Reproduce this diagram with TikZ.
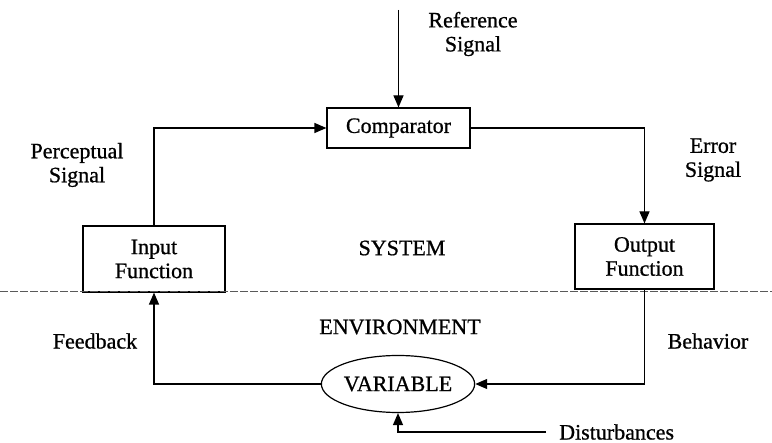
\documentclass[tikz,border=0pt]{standalone}
\usepackage{fontspec}
\setmainfont{Liberation Serif}[FakeBold=0.8]
\usetikzlibrary{arrows.meta,positioning,shapes.geometric}

\begin{document}
\begin{tikzpicture}[x=1pt, y=-1pt, font=\fontsize{22}{24}\selectfont, box/.style={draw, line width=1.2pt, align=center, inner sep=0pt}, lbl/.style={align=center, inner sep=1pt}, arr/.style={-{Triangle[length=12pt,width=10pt]}, line width=1.2pt}, sep/.style={line width=0.9pt, gray!70!black, dash pattern=on 8pt off 2pt}]
\useasboundingbox (0,0) rectangle (772,443);
\node[box, minimum width=143pt, minimum height=40pt] (comp) at (398.5,128) {Comparator};
\node[box, minimum width=142pt, minimum height=66pt] (inp) at (154,259) {Input\\Function};
\node[box, minimum width=139pt, minimum height=65pt] (outp) at (644.5,256.5) {Output\\Function};
\node[draw, ellipse, line width=1.2pt, minimum width=136pt, minimum height=57pt, inner sep=0pt] (var) at (398,384) {VARIABLE};
\node[lbl] (reflbl) at (473,34) {Reference\\Signal};
\node[lbl] (perclbl) at (77,165) {Perceptual\\Signal};
\node[lbl] (errlbl) at (713,160) {Error\\Signal};
\node[lbl] (syslbl) at (402,248) {SYSTEM};
\node[lbl] (envlbl) at (400,327) {ENVIRONMENT};
\node[lbl] (fblbl) at (95,341) {Feedback};
\node[lbl] (behlbl) at (708,341) {Behavior};
\node[lbl, anchor=west] (distlbl) at (558,432) {Disturbances};
\coordinate (refin) at (398.5,10);
\coordinate (distin) at (546,432);
\coordinate (sepl) at (0,291);
\coordinate (sepr) at (772,291);
\draw[sep] (sepl) -- (sepr);
\draw[arr] (refin) -- (comp.north); \draw[arr] (inp.north) |- (comp.west); \draw[arr] (comp.east) -| (outp.north); \draw[arr] (outp.south) |- (var.east); \draw[arr] (var.west) -| (inp.south); \draw[arr] (distin) -| (var.south);
\end{tikzpicture}
\end{document}
